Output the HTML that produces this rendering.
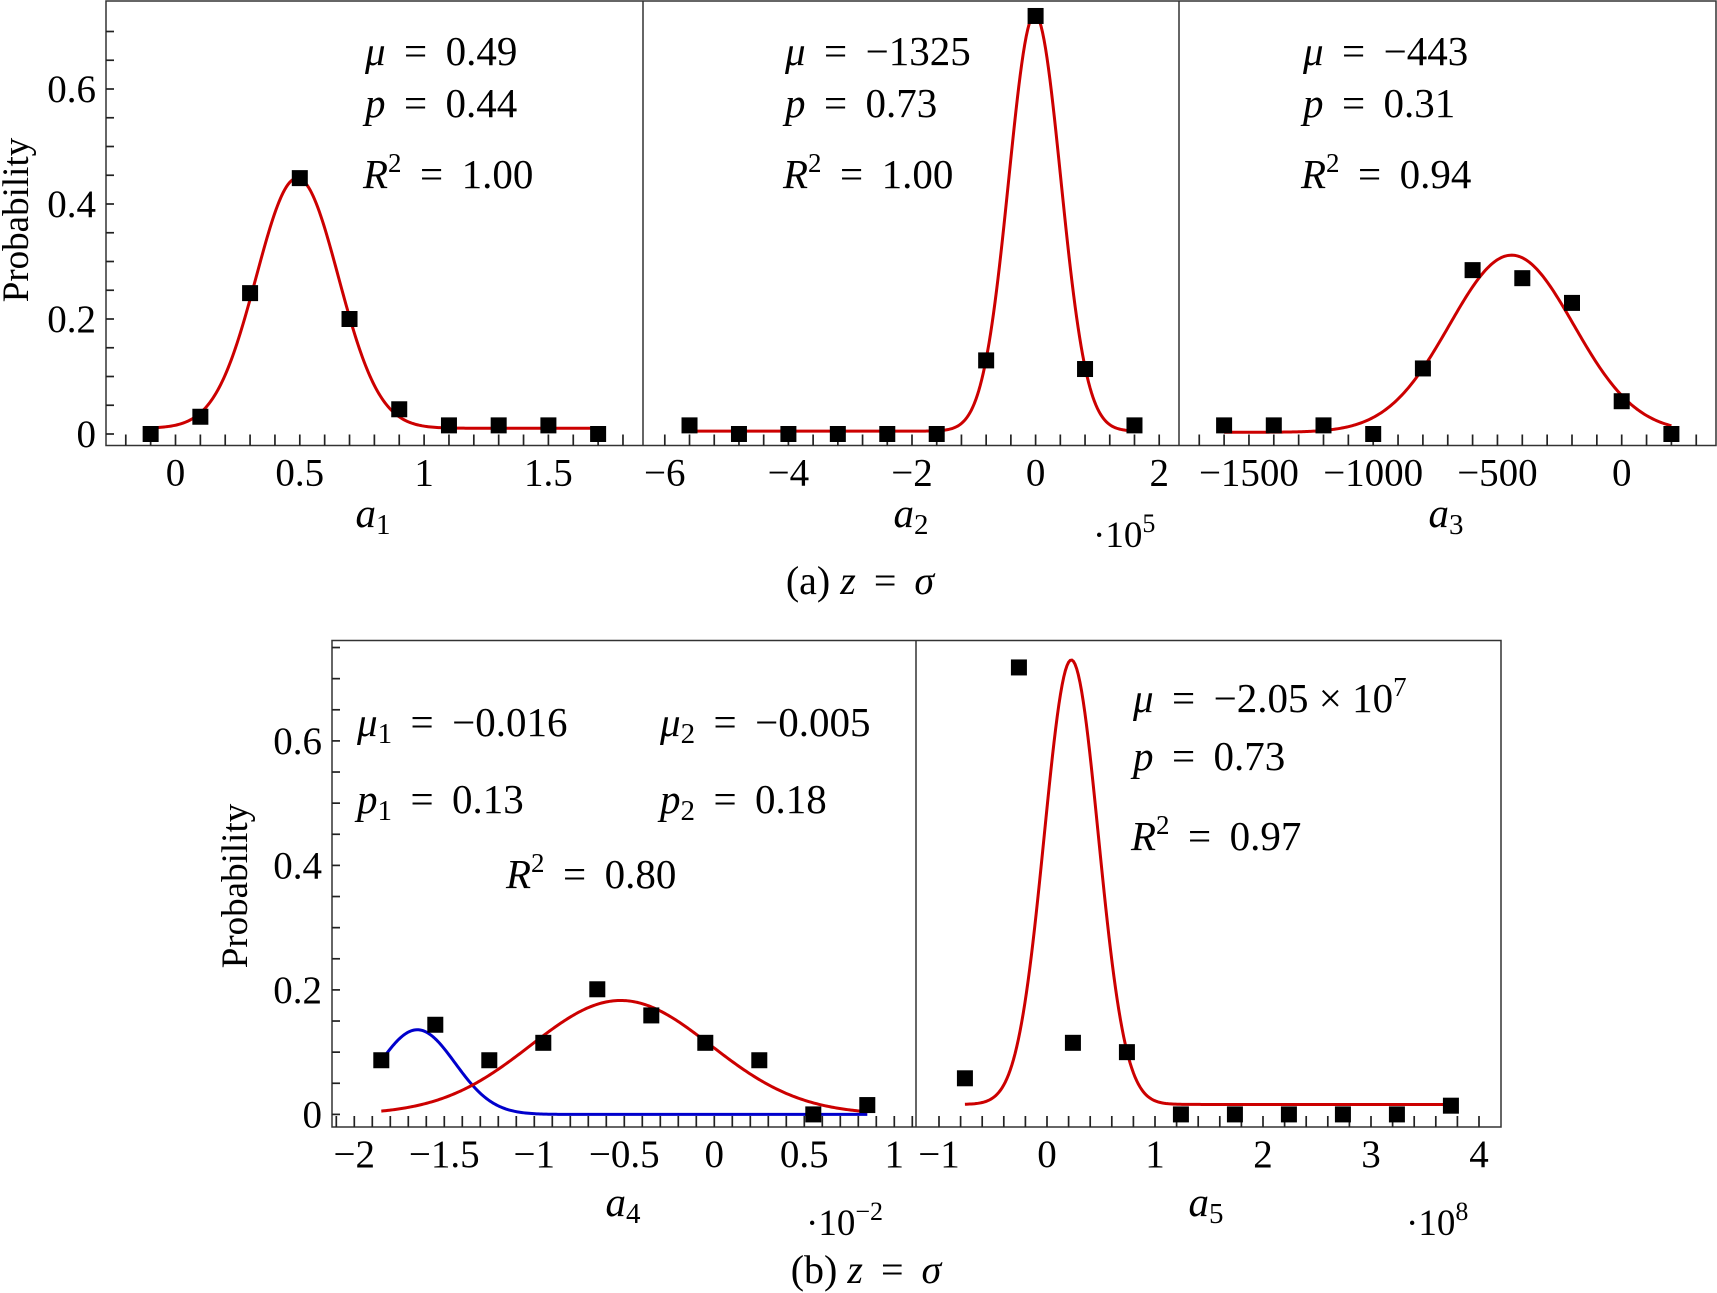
<!DOCTYPE html>
<html><head><meta charset="utf-8">
<style>
html,body{margin:0;padding:0;background:#fff;}
svg{display:block;}
text{font-family:"Liberation Serif",serif;fill:#000;}
.it{font-style:italic;}
</style></head>
<body>
<svg id="fig" width="1717" height="1293" viewBox="0 0 1717 1293" xmlns="http://www.w3.org/2000/svg"></svg>
<script>
// ---- data ----
const a1X = [-0.1,0.1,0.3,0.5,0.7,0.9,1.1,1.3,1.5,1.7];
const a1Y = [0.0,0.03,0.245,0.445,0.2,0.043,0.015,0.015,0.015,0.0];
const a1Fit = [0.435,0.49,0.165,0.01];
const a2X = [-5.6,-4.8,-4.0,-3.2,-2.4,-1.6,-0.8,0,0.8,1.6];
const a2Y = [0.015,0,0,0,0,0,0.128,0.727,0.113,0.015];
const a2Fit = [0.725,-0.013,0.42,0.005];
const a3X = [-1600,-1400,-1200,-1000,-800,-600,-400,-200,0,200];
const a3Y = [0.015,0.015,0.015,0,0.114,0.285,0.271,0.228,0.057,0];
const a3Fit = [0.308,-443,250,0.003];
const a4X = [-1.85,-1.55,-1.25,-0.95,-0.65,-0.35,-0.05,0.25,0.55,0.85];
const a4Y = [0.087,0.144,0.087,0.115,0.201,0.159,0.115,0.087,0,0.015];
const a4FitBlue = [0.136,-1.65,0.21,0];
const a4FitRed = [0.183,-0.52,0.5,0];
const a5X = [-0.76,-0.26,0.24,0.74,1.24,1.74,2.24,2.74,3.24,3.74];
const a5Y = [0.058,0.718,0.115,0.1,0,0,0,0,0,0.014];
const a5Fit = [0.714,0.225,0.25,0.016];
const yTicks = [0,0.2,0.4,0.6];
const yTickLabels = ["0","0.2","0.4","0.6"];
const a1Ticks = [0,0.5,1,1.5]; const a1Labels=["0","0.5","1","1.5"];
const a2Ticks = [-6,-4,-2,0,2]; const a2Labels=["\u22126","\u22124","\u22122","0","2"];
const a3Ticks = [-1500,-1000,-500,0]; const a3Labels=["\u22121500","\u22121000","\u2212500","0"];
const a4Ticks = [-2,-1.5,-1,-0.5,0,0.5,1]; const a4Labels=["\u22122","\u22121.5","\u22121","\u22120.5","0","0.5","1"];
const a5Ticks = [-1,0,1,2,3,4]; const a5Labels=["\u22121","0","1","2","3","4"];

const NS="http://www.w3.org/2000/svg";
const svg=document.getElementById('fig');
function mk(tag,attrs,parent){const e=document.createElementNS(NS,tag);for(const k in attrs)e.setAttribute(k,attrs[k]);(parent||svg).appendChild(e);return e;}
function gauss(p,x){return p[0]*Math.exp(-Math.pow(x-p[1],2)/(2*p[2]*p[2]))+p[3];}

function panel(o){
  const g=mk('g',{});
  
  
  const sx=v=>o.x0px+(v-o.x0v)*o.xs;
  const sy=v=>o.y0px-v*o.ys;
  for(let v=o.tmin;v<=o.tmax+1e-9;v+=o.tstep){
    const px=sx(v); if(px<o.left+2||px>o.right-2)continue;
    const t=mk('line',{x1:px,x2:px,y1:o.axisY,y2:o.axisY-11,stroke:'#222','stroke-width':1.7},g);
    
    
  }
  o.ticks.forEach((v,i)=>{
    const t=mk('text',{x:sx(v),y:o.axisY+40,'font-size':39,'text-anchor':'middle'},g);
    t.textContent=o.labels[i];
    
    
  });
  o.fits.forEach(f=>{
    let d='';
    for(let i=0;i<=300;i++){const v=o.cx0+(o.cx1-o.cx0)*i/300;d+=(i?'L':'M')+sx(v).toFixed(2)+' '+sy(gauss(f.p,v)).toFixed(2);}
    const pth=mk('path',{d:d,fill:'none',stroke:f.c,'stroke-width':3},g);
    
    
  });
  o.xs_.forEach((v,i)=>{
    const r=mk('rect',{x:sx(v)-8,y:sy(o.ys_[i])-8,width:16,height:16,fill:'#000'},g);
    
    
  });
}
function yaxis(x,y0,ys,top,name){
  const g=mk('g',{});
  
  
  for(let v=0;v<=0.76;v+=0.05){
    const y=y0-v*ys; if(y<top+3)continue;
    const t=mk('line',{x1:x,x2:x+8,y1:y,y2:y,stroke:'#222','stroke-width':1.7},g);
    
    
  }
  yTicks.forEach((v,i)=>{
    const t=mk('text',{x:x-10,y:y0-v*ys+13,'font-size':39,'text-anchor':'end'},g);
    t.textContent=yTickLabels[i];
    
    
  });
}
function frame(x1,y1,x2,y2,divs,name){
  const r=mk('rect',{x:x1,y:y1,width:x2-x1,height:y2-y1,fill:'none',stroke:'#333','stroke-width':1.5});
  
  
  divs.forEach(d=>{const l=mk('line',{x1:d,x2:d,y1:y1,y2:y2,stroke:'#333','stroke-width':1.5});
    
    });
}
function txt(x,y,html,name,size,anchor){
  const t=mk('text',{x:x,y:y,'font-size':size||41,'text-anchor':anchor||'start'});
  t.innerHTML=html;
  
  
  return t;
}
const EQ='<tspan> \u2009=\u2009 </tspan>';

// ---- top row ----
frame(106,1,1716,445.5,[643,1179],'top-frame');
yaxis(106,434,575,1,'top-y-axis');
panel({name:'panel-a1',x0px:175.5,x0v:0,xs:248.6,y0px:434,ys:575,axisY:445.5,left:106,right:643,tmin:-0.3,tmax:1.9,tstep:0.1,ticks:a1Ticks,labels:a1Labels,cx0:-0.1,cx1:1.7,fits:[{p:a1Fit,c:'#cc0000',n:'fit-curve-a1'}],xs_:a1X,ys_:a1Y});
panel({name:'panel-a2',x0px:1035.6,x0v:0,xs:61.8,y0px:434,ys:575,axisY:445.5,left:643,right:1179,tmin:-6.4,tmax:2.4,tstep:0.4,ticks:a2Ticks,labels:a2Labels,cx0:-5.6,cx1:1.6,fits:[{p:a2Fit,c:'#cc0000',n:'fit-curve-a2'}],xs_:a2X,ys_:a2Y});
panel({name:'panel-a3',x0px:1621.7,x0v:0,xs:0.2485,y0px:434,ys:575,axisY:445.5,left:1179,right:1716,tmin:-1800,tmax:400,tstep:100,ticks:a3Ticks,labels:a3Labels,cx0:-1600,cx1:200,fits:[{p:a3Fit,c:'#cc0000',n:'fit-curve-a3'}],xs_:a3X,ys_:a3Y});

const P='<tspan class="it">';
const R2='<tspan class="it">R</tspan><tspan font-size="27" dy="-16">2</tspan><tspan dy="16"> \u2009=\u2009 ';
txt(365,65,P+'μ</tspan>'+EQ+'0.49','annotation-mu-a1');
txt(365,117,P+'p</tspan>'+EQ+'0.44','annotation-p-a1');
txt(363,188,R2+'1.00</tspan>','annotation-r2-a1');
txt(785,65,P+'μ</tspan>'+EQ+'−1325','annotation-mu-a2');
txt(785,117,P+'p</tspan>'+EQ+'0.73','annotation-p-a2');
txt(783,188,R2+'1.00</tspan>','annotation-r2-a2');
txt(1303,65,P+'μ</tspan>'+EQ+'−443','annotation-mu-a3');
txt(1303,117,P+'p</tspan>'+EQ+'0.31','annotation-p-a3');
txt(1301,188,R2+'0.94</tspan>','annotation-r2-a3');
txt(373,527,P+'a</tspan><tspan font-size="29" dy="7">1</tspan>','x-axis-title-a1',41,'middle');
txt(911,527,P+'a</tspan><tspan font-size="29" dy="7">2</tspan>','x-axis-title-a2',41,'middle');
txt(1446,527,P+'a</tspan><tspan font-size="29" dy="7">3</tspan>','x-axis-title-a3',41,'middle');
txt(1093,547,'·10<tspan font-size="26" dy="-15">5</tspan>','x-scale-a2',37);
txt(860,594,'(a) '+P+'z</tspan>'+EQ+P+'σ</tspan>','caption-a',40,'middle');
const yl1=txt(0,0,'Probability','y-axis-title-top',37,'middle');
yl1.setAttribute('transform','translate(28,220) rotate(-90)');

// ---- bottom row ----
frame(332,640.5,1501,1127,[916],'bottom-frame');
yaxis(332,1114.4,622.5,640.5,'bottom-y-axis');
panel({name:'panel-a4',x0px:714.3,x0v:0,xs:180,y0px:1114.4,ys:622.5,axisY:1127,left:332,right:916,tmin:-2.2,tmax:1.1,tstep:0.1,ticks:a4Ticks,labels:a4Labels,cx0:-1.85,cx1:0.85,fits:[{p:a4FitBlue,c:'#0000cc',n:'fit-curve-a4-blue'},{p:a4FitRed,c:'#cc0000',n:'fit-curve-a4-red'}],xs_:a4X,ys_:a4Y});
panel({name:'panel-a5',x0px:1047,x0v:0,xs:108,y0px:1114.4,ys:622.5,axisY:1127,left:916,right:1501,tmin:-1.6,tmax:4.4,tstep:0.2,ticks:a5Ticks,labels:a5Labels,cx0:-0.76,cx1:3.74,fits:[{p:a5Fit,c:'#cc0000',n:'fit-curve-a5'}],xs_:a5X,ys_:a5Y});

txt(357,736,P+'μ</tspan><tspan font-size="29" dy="7">1</tspan><tspan dy="-7"> \u2009=\u2009 −0.016</tspan>','annotation-mu1-a4');
txt(660,736,P+'μ</tspan><tspan font-size="29" dy="7">2</tspan><tspan dy="-7"> \u2009=\u2009 −0.005</tspan>','annotation-mu2-a4');
txt(357,813,P+'p</tspan><tspan font-size="29" dy="7">1</tspan><tspan dy="-7"> \u2009=\u2009 0.13</tspan>','annotation-p1-a4');
txt(660,813,P+'p</tspan><tspan font-size="29" dy="7">2</tspan><tspan dy="-7"> \u2009=\u2009 0.18</tspan>','annotation-p2-a4');
txt(506,888,R2+'0.80</tspan>','annotation-r2-a4');
txt(1133,712,P+'μ</tspan>'+EQ+'−2.05 × 10<tspan font-size="27" dy="-16">7</tspan>','annotation-mu-a5');
txt(1133,770,P+'p</tspan>'+EQ+'0.73','annotation-p-a5');
txt(1131,850,R2+'0.97</tspan>','annotation-r2-a5');
txt(623,1216,P+'a</tspan><tspan font-size="29" dy="7">4</tspan>','x-axis-title-a4',41,'middle');
txt(1206,1216,P+'a</tspan><tspan font-size="29" dy="7">5</tspan>','x-axis-title-a5',41,'middle');
txt(806,1235,'·10<tspan font-size="26" dy="-15">−2</tspan>','x-scale-a4',37);
txt(1406,1235,'·10<tspan font-size="26" dy="-15">8</tspan>','x-scale-a5',37);
txt(866,1283,'(b) '+P+'z</tspan>'+EQ+P+'σ</tspan>','caption-b',40,'middle');
const yl2=txt(0,0,'Probability','y-axis-title-bottom',37,'middle');
yl2.setAttribute('transform','translate(247,886) rotate(-90)');
</script>
</body></html>
